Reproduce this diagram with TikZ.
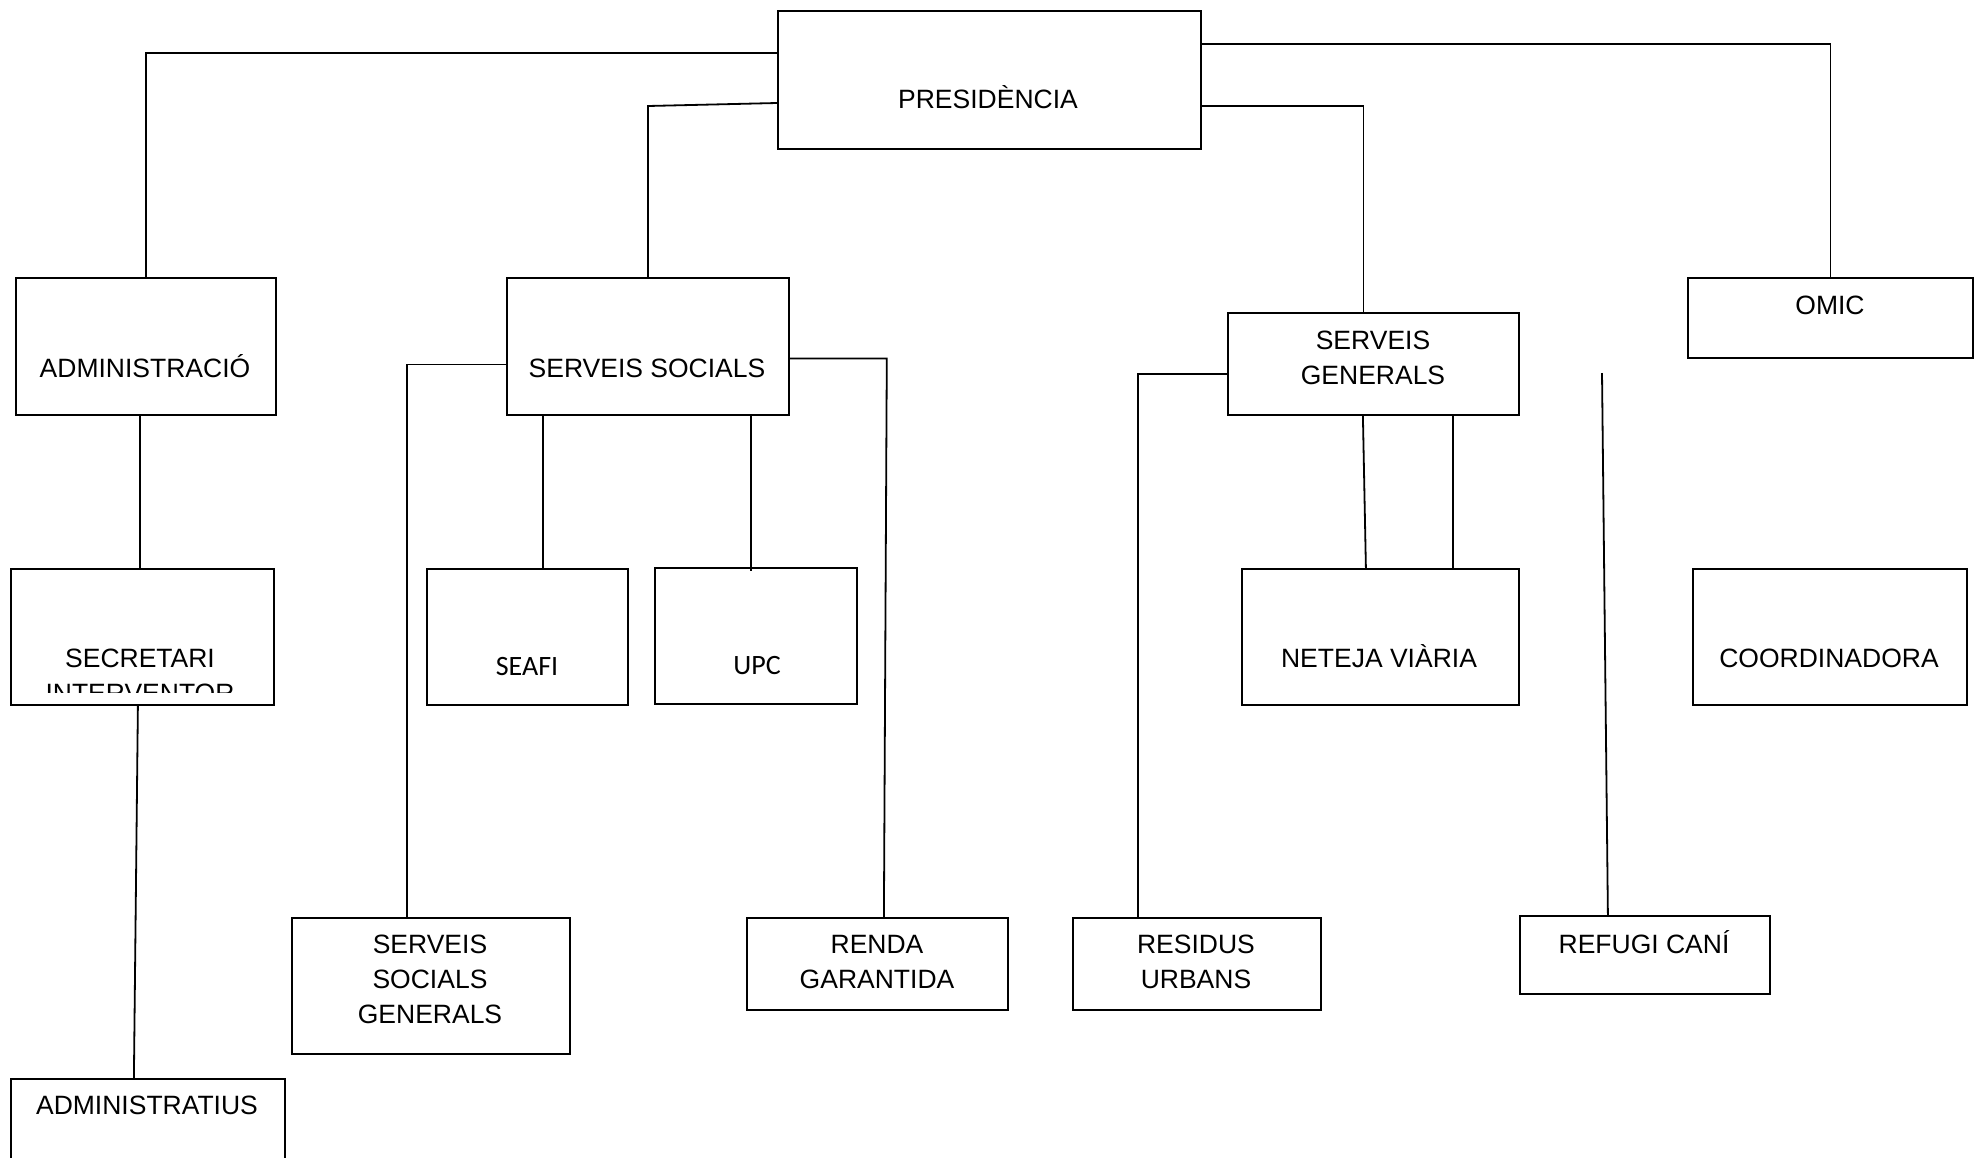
\documentclass[tikz,border=0pt]{standalone}
\usepackage{fontspec}
\setmainfont{Liberation Sans}
\newfontfamily\calib{Carlito}
\usetikzlibrary{positioning,calc}
\tikzset{
  unit/.style={rectangle, draw=black, line width=1.8pt, inner sep=0pt, anchor=north west},
  lbl/.style={inner sep=0pt, anchor=base, align=center, font=\fontsize{26.5}{35}\selectfont},
  lblc/.style={inner sep=0pt, anchor=base, font=\calib\fontsize{28}{34}\selectfont},
  link/.style={line width=1.8pt}
}

\begin{document}
\begin{tikzpicture}[x=1pt, y=-1pt]
	\useasboundingbox (0,0) rectangle (1977,1157);
	% boxes
	\node[unit, minimum width=423pt, minimum height=138pt] (pres) at (777,10) {};
	\node[unit, minimum width=260pt, minimum height=137pt] (adm) at (15,277) {};
	\node[unit, minimum width=282pt, minimum height=137pt] (ss) at (506,277) {};
	\node[unit, minimum width=291pt, minimum height=102pt] (sg) at (1227,312) {};
	\node[unit, minimum width=285pt, minimum height=80pt] (omic) at (1687,277) {};
	\node[unit, minimum width=263pt, minimum height=136pt] (secr) at (10,568) {};
	\node[unit, minimum width=201pt, minimum height=136pt] (seafi) at (426,568) {};
	\node[unit, minimum width=202pt, minimum height=136pt] (upc) at (654,567) {};
	\node[unit, minimum width=277pt, minimum height=136pt] (neteja) at (1241,568) {};
	\node[unit, minimum width=274pt, minimum height=136pt] (coord) at (1692,568) {};
	\node[unit, minimum width=278pt, minimum height=136pt] (ssg) at (291,917) {};
	\node[unit, minimum width=261pt, minimum height=92pt] (renda) at (746,917) {};
	\node[unit, minimum width=248pt, minimum height=92pt] (residus) at (1072,917) {};
	\node[unit, minimum width=250pt, minimum height=78pt] (refugi) at (1519,915) {};
	\node[unit, minimum width=274pt, minimum height=120pt] (admtius) at (10,1078) {};
	
	% labels (base = last line)
	\node[lbl] (pres-t) at (988,108) {PRESIDÈNCIA};
	\node[lbl] (adm-t) at (145,377) {ADMINISTRACIÓ};
	\node[lbl] (ss-t) at (647,377) {SERVEIS SOCIALS};
	\node[lbl] (sg-t) at (1373,384) {SERVEIS\\GENERALS};
	\node[lbl] (omic-t) at (1830,314) {OMIC};
	\begin{scope}
		\clip (12,570) rectangle (271,692);
		\node[lbl] (secr-t) at (140,702) {SECRETARI\\INTERVENTOR};
	\end{scope}
	\node[lblc] (seafi-t) at (527,675) {SEAFI};
	\node[lblc] (upc-t) at (757,674) {UPC};
	\node[lbl] (neteja-t) at (1379,667) {NETEJA VIÀRIA};
	\node[lbl] (coord-t) at (1829,667) {COORDINADORA};
	\node[lbl] (ssg-t) at (430,1023) {SERVEIS\\SOCIALS\\GENERALS};
	\node[lbl] (renda-t) at (877,988) {RENDA\\GARANTIDA};
	\node[lbl] (residus-t) at (1196,988) {RESIDUS\\URBANS};
	\node[lbl] (refugi-t) at (1644,953) {REFUGI CANÍ};
	\node[lbl] (admtius-t) at (147,1114) {ADMINISTRATIUS};
	
	% connectors
	\draw[link] ($(pres.north west)+(0,43)$) -| (adm.north);
	\draw[link] ($(pres.north west)+(0,93)$) -- ($(ss.north)+(0,-171)$) -- (ss.north);
	\draw[link] ($(pres.north east)+(0,34)$) -| (omic.north);
	\draw[link] ($(pres.north east)+(0,96)$) -| ($(sg.north)+(-10,0)$);
	\draw[link] ($(adm.south)+(-6,0)$) -- ($(secr.north)+(-2.5,0)$);
	\draw[link] ($(secr.south)+(-4.5,0)$) -- ($(admtius.north)+(-14,0)$);
	\draw[link] ($(ss.west)+(0,18)$) -| ($(ssg.north)+(-24,0)$);
	\draw[link] ($(ss.south)+(-105,0)$) -- ($(seafi.north)+(15.5,0)$);
	\draw[link] ($(ss.south)+(103,0)$) -- ($(upc.north)+(-5,4)$);
	\draw[link] ($(ss.east)+(0,12)$) -- ++(97,0) -- ($(renda.north)+(6.5,0)$);
	\draw[link] ($(sg.west)+(0,10)$) -| ($(residus.north)+(-59,0)$);
	\draw[link] ($(sg.south)+(-10.5,0)$) -- ($(neteja.north)+(-14.5,0)$);
	\draw[link] ($(sg.south)+(79.5,0)$) -- ($(neteja.north)+(72.5,0)$);
	\coordinate (loose) at (1602,373);
	\draw[link] (loose) -- ($(refugi.north)+(-37,0)$);
	
\end{tikzpicture}
\end{document}
